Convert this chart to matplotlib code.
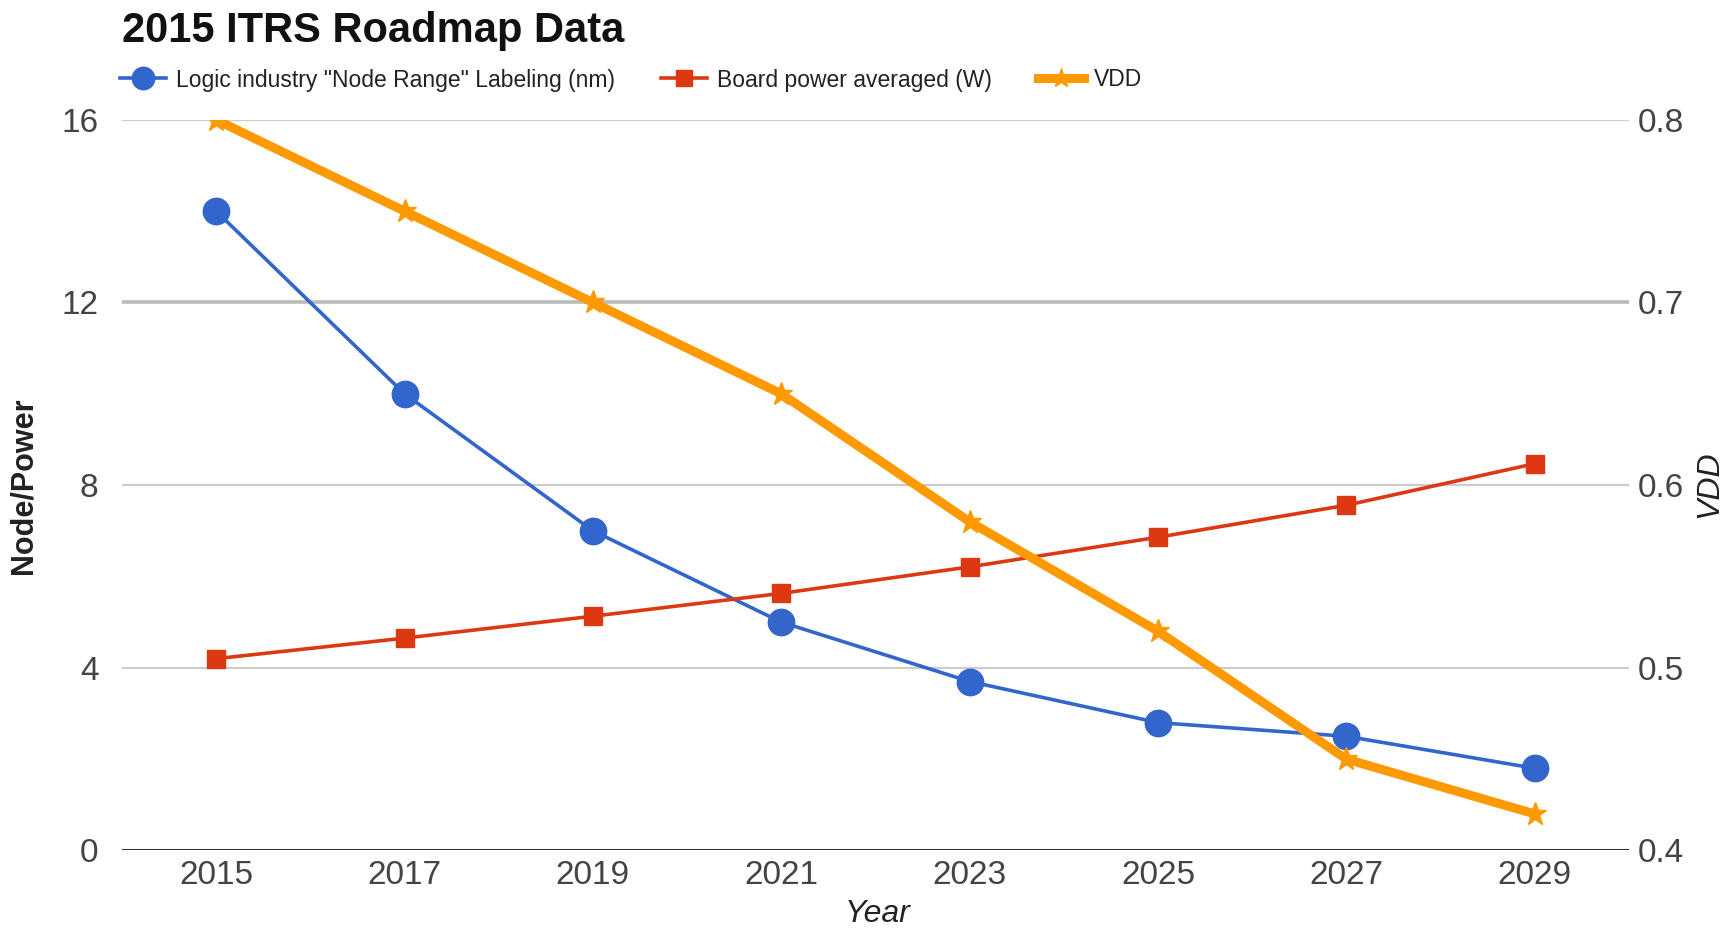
import matplotlib.pyplot as plt

plt.rcParams['font.family'] = ['Liberation Sans', 'DejaVu Sans']

years = [2015, 2017, 2019, 2021, 2023, 2025, 2027, 2029]
node_nm = [14, 10, 7, 5, 3.7, 2.8, 2.5, 1.8]
board_power = [4.2, 4.65, 5.13, 5.63, 6.21, 6.86, 7.56, 8.47]
vdd = [0.80, 0.75, 0.70, 0.65, 0.58, 0.52, 0.45, 0.42]

left_ticks = [0, 4, 8, 12, 16]
right_ticks = [0.4, 0.5, 0.6, 0.7, 0.8]

blue = '#3366cc'
red = '#dc3912'
orange = '#ff9900'

fig = plt.figure(figsize=(17.23, 9.31), dpi=100)
ax = fig.add_axes([0.0708, 0.0865, 0.8746, 0.7848])
ax2 = ax.twinx()

# grid lines drawn by hand so they sit under everything
for t in left_ticks[1:]:
    ax.axhline(t, color='#cccccc', lw=1.6, zorder=0)
ax.axhline(12, color='#bbbbbb', lw=2.6, zorder=0)
ax.axhline(0, color='#333333', lw=2.2, zorder=1)

l1, = ax.plot(years, node_nm, color=blue, lw=2.6, marker='o', ms=19,
              zorder=3, label='Logic industry "Node Range" Labeling (nm)')
l2, = ax.plot(years, board_power, color=red, lw=2.6, marker='s', ms=13,
              zorder=3, label='Board power averaged (W)')
l3, = ax2.plot(years, vdd, color=orange, lw=6.5, marker='*', ms=17,
               zorder=3, label='VDD')

ax.set_xlim(2014, 2030)
ax.set_ylim(0, 16)
ax2.set_ylim(0.4, 0.8)
ax.set_xticks(years)
ax.set_yticks(left_ticks)
ax2.set_yticks(right_ticks)
ax2.set_yticklabels(['0.4', '0.5', '0.6', '0.7', '0.8'])

for a in (ax, ax2):
    for s in a.spines.values():
        s.set_visible(False)
ax.tick_params(axis='both', length=0, labelsize=24, colors='#444444')
ax.tick_params(axis='x', pad=7)
ax.tick_params(axis='y', pad=17)
ax2.tick_params(axis='y', length=0, labelsize=24, colors='#444444', pad=6)

fig.text(122 / 1723, 1 - 31 / 931, '2015 ITRS Roadmap Data', fontsize=30,
         fontweight='bold', ha='left', va='center', color='#111111')
fig.text(24 / 1723, 1 - 486 / 931, 'Node/Power', fontsize=22,
         fontweight='bold', rotation=90, ha='center', va='center', color='#222222')
fig.text(1709 / 1723, 1 - 484 / 931, 'VDD', fontsize=23, style='italic',
         rotation=90, ha='center', va='center', color='#222222')
fig.text(878 / 1723, 1 - 914 / 931, 'Year', fontsize=23, style='italic',
         ha='center', va='center', color='#222222')

fig.legend(handles=[l1, l2, l3], loc='center left',
           bbox_to_anchor=(120 / 1723, 1 - 80 / 931), ncol=3, frameon=False,
           fontsize=16.5, handlelength=2.0, handletextpad=0.45, columnspacing=2.0,
           borderpad=0, borderaxespad=0, markerscale=0.85, labelcolor='#222222')

fig.savefig('out.png', dpi=100, facecolor='white')
